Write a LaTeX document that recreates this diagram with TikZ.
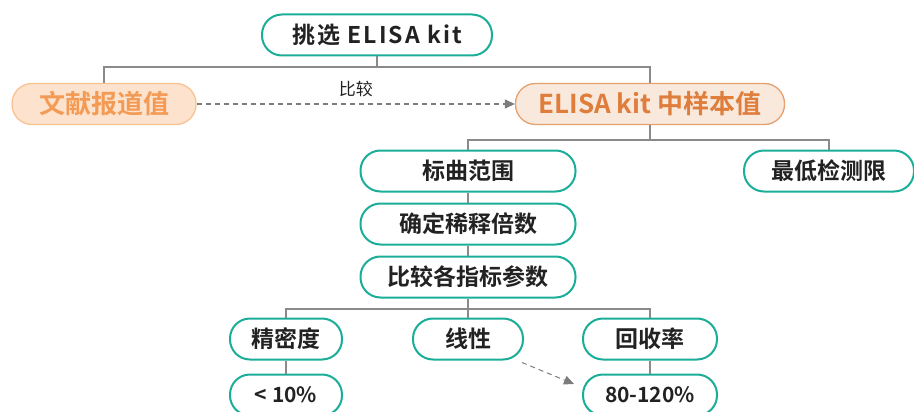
\documentclass[tikz,border=0pt]{standalone}
\usepackage{fontspec}
\setmainfont{Noto Sans CJK SC}[BoldFont={Noto Sans CJK SC Bold}]
\newfontfamily\spacedfont{Noto Sans CJK SC Bold}[LetterSpace=9]
\usetikzlibrary{arrows.meta,calc}
\definecolor{teal1}{HTML}{1AAE98}
\definecolor{conn}{HTML}{8A8A8A}
\definecolor{litfill}{HTML}{FDE3CD}
\definecolor{litdraw}{HTML}{F8C291}
\definecolor{littext}{HTML}{F39A55}
\definecolor{kitfill}{HTML}{F9E9DC}
\definecolor{kitdraw}{HTML}{E5A06E}
\definecolor{kittext}{HTML}{DF7E3C}
\definecolor{txt}{HTML}{222222}
\tikzset{
  x=1pt,y=-1pt,
  pill/.style={draw=teal1,line width=2pt,fill=white,rounded corners=20pt,
    minimum height=41pt,inner sep=0pt,font=\fontsize{23}{24}\selectfont\bfseries,text=txt},
  numpill/.style={pill,font=\fontsize{21}{22}\selectfont\bfseries},
  orangepill/.style={pill,draw=kitdraw,fill=kitfill,text=kittext,line width=1.3pt,font=\fontsize{26}{27}\selectfont\bfseries},
  litpill/.style={pill,draw=litdraw,fill=litfill,text=littext,line width=1.3pt,font=\fontsize{26}{27}\selectfont\bfseries},
  conn/.style={draw=conn,line width=1.3pt},
  dasharrow/.style={draw=conn!90!black,line width=1.3pt,dash pattern=on 5pt off 4pt,-{Triangle[length=10pt,width=9pt]}}
}
\begin{document}
\begin{tikzpicture}
\useasboundingbox (0,0) rectangle (914,412);
\coordinate (j1) at (377,67);
\coordinate (j2) at (650,140);
\coordinate (j3) at (468,309);
\node[pill,minimum width=230pt,font=\fontsize{23}{24}\spacedfont] (top) at (377,35) {挑选 ELISA kit};
\node[litpill,minimum width=184pt] (lit) at (104,104) {文献报道值};
\node[orangepill,minimum width=269pt] (kit) at (650,104) {ELISA kit 中样本值};
\node[pill,minimum width=215pt] (range) at (468,171) {标曲范围};
\node[pill,minimum width=170pt] (lod) at (829,171) {最低检测限};
\node[pill,minimum width=215pt] (dil) at (468,224) {确定稀释倍数};
\node[pill,minimum width=215pt] (cmp) at (468,277) {比较各指标参数};
\node[pill,minimum width=112pt] (prec) at (286,339) {精密度};
\node[pill,minimum width=110pt] (lin) at (468,339) {线性};
\node[pill,minimum width=134pt] (rec) at (650,339) {回收率};
\node[numpill,minimum width=112pt] (p10) at (286,395) {< 10\%};
\node[numpill,minimum width=134pt] (r80) at (650,395) {80-120\%};
\coordinate (aend) at (574,384);
\draw[conn] (top.south) -- (j1) -| (lit.north);
\draw[conn] (j1) -| (kit.north);
\draw[conn] (kit.south) -- (j2) -| (range.north);
\draw[conn] (j2) -| (lod.north);
\draw[conn] (range.south) -- (dil.north);
\draw[conn] (dil.south) -- (cmp.north);
\draw[conn] (cmp.south) -- (j3) -| (prec.north);
\draw[conn] (j3) -| (rec.north);
\draw[conn] (j3) -- (lin.north);
\draw[conn] (prec.south) -- (p10.north);
\draw[conn] (rec.south) -- (r80.north);
\draw[dasharrow] (lit.east) -- node[above=3pt,font=\fontsize{17}{18}\selectfont,text=txt] {比较} (kit.west);
\draw[dasharrow,line width=1pt] ($(lin.south east)+(-2,2)$) -- (aend);
\end{tikzpicture}
\end{document}
